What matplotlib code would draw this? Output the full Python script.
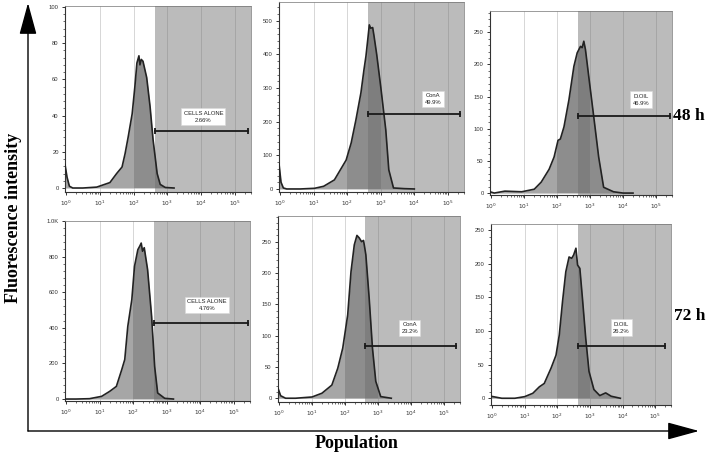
import numpy as np
import matplotlib
matplotlib.use("Agg")
import matplotlib.pyplot as plt
from matplotlib.ticker import FixedLocator, AutoMinorLocator, LogLocator, NullFormatter

W, H = 708, 454

# histogram outlines, x given as log10 of channel value, y = count
p1_dec = [-0.03, 0.03, 0.1, 0.2, 0.5, 0.91, 1.3, 1.5, 1.66, 1.75, 1.84, 1.96, 2.04, 2.1, 2.16, 2.19, 2.23, 2.28, 2.39, 2.49, 2.58, 2.7, 2.79, 2.94, 3.2]
p1_cnt = [13, 6, 1, 0, 0, 0.5, 3, 8, 11.6, 19, 28, 41, 56, 69, 73, 68, 71, 70, 61, 45, 26.5, 8, 2, 0.3, 0]

p2_dec = [-0.03, 0.03, 0.1, 0.2, 0.6, 1.03, 1.3, 1.62, 1.97, 2.12, 2.26, 2.41, 2.5, 2.56, 2.62, 2.66, 2.7, 2.76, 2.8, 2.88, 3.0, 3.15, 3.24, 3.38, 3.7, 4.0]
p2_cnt = [75, 20, 3, 0, 0, 2, 8, 27, 86, 137, 205, 286, 354, 395, 450, 488, 478, 480, 455, 400, 304, 176, 57, 3, 1, 0]

p3_dec = [-0.03, 0.1, 0.42, 0.93, 1.31, 1.52, 1.76, 1.91, 2.03, 2.1, 2.21, 2.36, 2.51, 2.61, 2.71, 2.76, 2.81, 2.86, 2.96, 3.11, 3.26, 3.41, 3.71, 4.0, 4.3]
p3_cnt = [2, 0, 3, 2, 6, 17, 37, 56, 82, 84, 103, 145, 197, 218, 228, 226, 236, 223, 181, 119, 56, 9, 2, 0, 0]

p4_dec = [-0.03, 0.3, 0.7, 1.06, 1.3, 1.5, 1.66, 1.75, 1.84, 1.96, 2.04, 2.14, 2.2, 2.24, 2.28, 2.33, 2.43, 2.55, 2.64, 2.73, 2.94, 3.2]
p4_cnt = [0, 0, 2, 15, 43, 71, 165, 222, 408, 558, 745, 839, 860, 876, 830, 850, 727, 464, 183, 34, 4, 0]

p5_dec = [-0.03, 0.05, 0.2, 0.5, 1.0, 1.3, 1.6, 1.78, 1.93, 2.08, 2.18, 2.28, 2.36, 2.43, 2.5, 2.56, 2.63, 2.73, 2.83, 2.93, 3.08, 3.4]
p5_cnt = [16, 4, 0, 0, 2, 8, 21, 48, 80, 133, 202, 245, 260, 256, 250, 252, 229, 160, 80, 27, 2.6, 0]

p6_dec = [-0.03, 0.3, 0.7, 1.0, 1.25, 1.45, 1.6, 1.81, 1.96, 2.06, 2.16, 2.26, 2.36, 2.44, 2.5, 2.57, 2.62, 2.69, 2.77, 2.87, 2.97, 3.12, 3.3, 3.48, 3.65, 3.93]
p6_cnt = [3, 0, 0, 2.4, 7.4, 17, 22, 45, 64, 94, 144, 188, 210, 208, 213, 223, 198, 193, 148, 89, 40, 13, 4, 8, 3, 0]

hist_dec = [p1_dec, p2_dec, p3_dec, p4_dec, p5_dec, p6_dec]
hist_cnt = [p1_cnt, p2_cnt, p3_cnt, p4_cnt, p5_cnt, p6_cnt]

gate_start = [2.64, 2.62, 2.63, 2.61, 2.61, 2.64]
gate_end = [5.38, 5.35, 5.43, 5.42, 5.36, 5.30]
gate_y = [31.5, 223, 120, 427, 84, 78]
gate_text = ["CELLS ALONE\n2.66%", "ConA\n49.9%", "D.OIL\n46.9%",
             "CELLS ALONE\n4.76%", "ConA\n23.2%", "D.OIL\n26.2%"]
text_dec = [4.07, 4.56, 4.54, 4.19, 3.96, 3.96]
text_y = [39.4, 268, 145, 528, 112, 105]

yticks = [[0, 20, 40, 60, 80, 100], [0, 100, 200, 300, 400, 500], [0, 50, 100, 150, 200, 250],
          [0, 200, 400, 600, 800, 1000], [0, 50, 100, 150, 200, 250], [0, 50, 100, 150, 200, 250]]
ytick_labels = [[str(v) for v in yticks[0]], [str(v) for v in yticks[1]], [str(v) for v in yticks[2]],
                ["0", "200", "400", "600", "800", "1.0K"], [str(v) for v in yticks[4]], [str(v) for v in yticks[5]]]
ylims = [(-2.2, 100.5), (-9, 556), (-3, 283), (-11, 1000), (-6, 291), (-10, 259)]
xticks = [1, 10, 100, 1000, 10000, 100000]
xtick_labels = [r"$10^{%d}$" % i for i in range(6)]

row_labels = ["48 h", "72 h"]

# panel boxes in pixels: left, top, right, bottom
boxes = [(65, 6, 251, 192), (279, 2, 464, 192), (490, 11, 672, 195),
         (65, 221, 250, 401), (278, 216, 460, 402), (491, 224, 671, 405)]

fig = plt.figure(figsize=(W / 100, H / 100), dpi=100)

# frame with the two big arrows
frame = fig.add_axes([0, 0, 1, 1], zorder=0)
frame.set_xlim(0, W)
frame.set_ylim(H, 0)
frame.axis("off")
arrow = dict(arrowstyle="-|>,head_length=1.1,head_width=0.3", mutation_scale=18,
             color="black", lw=1.0, shrinkA=0, shrinkB=0)
frame.annotate("", xy=(28, 3), xytext=(28, 431), arrowprops=arrow)
frame.annotate("", xy=(699, 431), xytext=(28, 431), arrowprops=arrow)
frame.text(14, 218, "Fluorescence intensity", rotation=90, ha="center", va="center",
           family="Liberation Serif", weight="bold", fontsize=13)
frame.text(357, 443, "Population", ha="center", va="center",
           family="Liberation Serif", weight="bold", fontsize=13)
frame.text(689, 116, row_labels[0], ha="center", va="center",
           family="Liberation Serif", weight="bold", fontsize=12.5)
frame.text(690, 316, row_labels[1], ha="center", va="center",
           family="Liberation Serif", weight="bold", fontsize=12.5)

for i in range(6):
    l, t, r, b = boxes[i]
    ax = fig.add_axes([l / W, 1 - b / H, (r - l) / W, (b - t) / H], zorder=2)
    ax.set_xscale("log")
    ax.set_xlim(10 ** -0.03, 10 ** 5.48)
    ax.set_ylim(*ylims[i])

    x = 10 ** np.array(hist_dec[i])
    y = np.array(hist_cnt[i])

    for g in [10, 100, 1000, 10000, 100000]:
        ax.axvline(g, color="#d6d6d6", lw=0.7, zorder=1)

    fill = ax.fill_between(x, 0, y, color="#a6a6a6", lw=0, zorder=2)
    clip = fill.get_paths()[0]
    band = ax.axvspan(100, 1000, color="black", alpha=0.15, lw=0, zorder=3)
    band.set_clip_path(clip, ax.transData)

    ax.axvspan(10 ** gate_start[i], 10 ** 5.48, color="#6f6f6f", alpha=0.47, lw=0, zorder=4)
    ax.plot(x, y, color="#222222", lw=1.2, zorder=5)

    ax.plot([10 ** gate_start[i], 10 ** gate_end[i]], [gate_y[i], gate_y[i]],
            color="#1a1a1a", lw=1.3, marker="|", markersize=5, mew=1.3, zorder=6)
    ax.text(10 ** text_dec[i], text_y[i], gate_text[i], ha="center", va="center",
            fontsize=4.2, family="Liberation Sans", color="#222222", linespacing=1.5, zorder=7,
            bbox=dict(boxstyle="square,pad=0.4", fc="white", ec="#d8d8d8", lw=0.4))

    ax.xaxis.set_major_locator(FixedLocator(xticks))
    ax.set_xticklabels(xtick_labels)
    ax.xaxis.set_minor_locator(LogLocator(base=10, subs=np.arange(2, 10), numticks=20))
    ax.xaxis.set_minor_formatter(NullFormatter())
    ax.set_yticks(yticks[i])
    ax.set_yticklabels(ytick_labels[i])
    ax.yaxis.set_minor_locator(AutoMinorLocator(5))

    ax.tick_params(which="major", length=2.5, width=0.7, color="#333333",
                   labelsize=4.2, labelcolor="#333333", pad=2)
    ax.tick_params(which="minor", length=1.3, width=0.5, color="#333333")
    for lab in ax.get_xticklabels() + ax.get_yticklabels():
        lab.set_family("Liberation Sans")
    for side in ["left", "bottom"]:
        ax.spines[side].set_color("#333333")
        ax.spines[side].set_linewidth(0.8)
    for side in ["top", "right"]:
        ax.spines[side].set_color("#8a8a8a")
        ax.spines[side].set_linewidth(0.6)

fig.savefig("out.png", dpi=100)
